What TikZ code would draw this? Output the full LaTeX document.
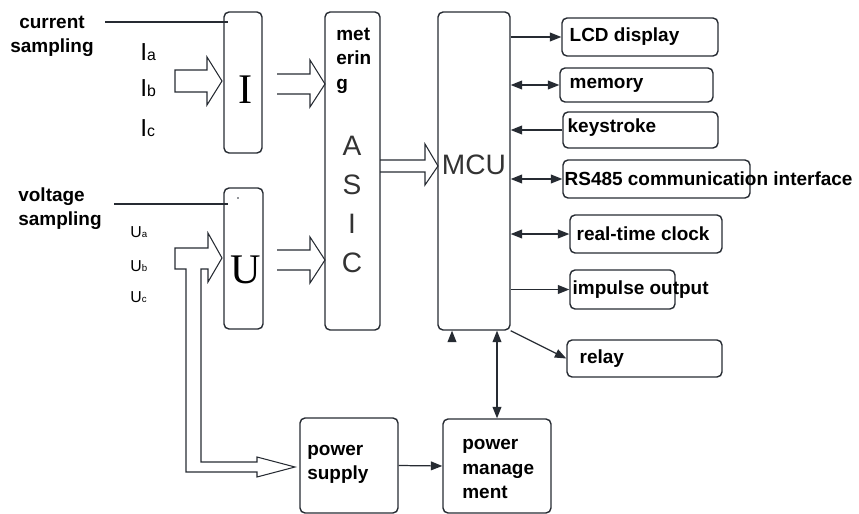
\documentclass[tikz,border=0pt]{standalone}
\usepackage{fontspec}
\setmainfont{Liberation Sans}
\newfontfamily\serfont{Liberation Serif}
\usetikzlibrary{arrows.meta,calc}
\definecolor{darkline}{RGB}{38,43,50}

\begin{document}
\begin{tikzpicture}[x=0.02cm,y=-0.02cm]

\tikzset{mybox/.style={draw=darkline, line width=0.8pt, rounded corners=0.1cm, inner sep=0pt}}
\tikzset{mytext/.style={font=\fontsize{10.8}{13.8}\selectfont\bfseries, inner sep=0pt, align=left, text=black}}
\tikzset{myarrow/.style={draw=darkline, line width=0.7pt, -{Triangle[length=6.5pt,width=5pt]}}}
\tikzset{mydouble/.style={draw=darkline, line width=0.7pt, {Triangle[length=6.5pt,width=5pt]}-{Triangle[length=6.5pt,width=5pt]}}}
\tikzset{hollow/.style={draw=darkline, line width=0.6pt}}

\useasboundingbox (0,0) rectangle (859,514);

% blocks
\node[mybox, minimum width=0.76cm, minimum height=2.82cm] (I) at (243,82.5) {};
\node[mybox, minimum width=0.78cm, minimum height=2.82cm] (U) at (243.5,258.5) {};
\node[mybox, minimum width=1.10cm, minimum height=6.36cm] (ASIC) at (352.5,171) {};
\node[mybox, minimum width=1.44cm, minimum height=6.36cm] (MCU) at (474,171) {};
\node[mybox, minimum width=3.12cm, minimum height=0.76cm] (LCD) at (640,37) {};
\node[mybox, minimum width=3.06cm, minimum height=0.68cm] (mem) at (636.5,85) {};
\node[mybox, minimum width=3.10cm, minimum height=0.72cm] (key) at (640.5,130) {};
\node[mybox, minimum width=3.74cm, minimum height=0.76cm] (rs) at (656.5,179) {};
\node[mybox, minimum width=3.04cm, minimum height=0.76cm] (rtc) at (646,234) {};
\node[mybox, minimum width=2.10cm, minimum height=0.78cm] (imp) at (622.5,289.5) {};
\node[mybox, minimum width=3.10cm, minimum height=0.74cm] (relay) at (644.5,358.5) {};
\node[mybox, minimum width=1.96cm, minimum height=1.90cm] (PS) at (349,465.5) {};
\node[mybox, minimum width=2.16cm, minimum height=1.88cm] (PM) at (497,466) {};

% texts
\node[mytext, align=center] (cur) at (52,36) {current\\sampling};
\node[mytext, anchor=west] (volt) at (18,208.5) {voltage\\sampling};
\node[mytext, anchor=north west] (met) at (336,28) {met\\erin\\g};
\node[mytext, anchor=west] (lcdtext) at ([xshift=0.16cm]LCD.west) {LCD display};
\node[mytext, anchor=west] (memtext) at ([xshift=0.2cm]mem.west) {memory};
\node[mytext, anchor=west] (keytext) at ([xshift=0.1cm,yshift=0.04cm]key.west) {keystroke};
\node[mytext, anchor=west] (rstext) at ([xshift=0.04cm]rs.west) {RS485 communication interface};
\node[mytext, anchor=west] (rtctext) at ([xshift=0.14cm]rtc.west) {real-time clock};
\node[mytext, anchor=west] (imptext) at ([xshift=0.06cm]imp.west) {impulse output};
\node[mytext, anchor=west] (relaytext) at ([xshift=0.26cm]relay.west) {relay};
\node[mytext, anchor=west] (pstext) at (307,464) {power\\supply};
\node[mytext, anchor=west] (pmtext) at (462,469) {power\\manage\\ment};

\node[font=\serfont\fontsize{24}{24}\selectfont, inner sep=0pt] (Iletter) at (246,90) {I};
\node[font=\serfont\fontsize{24}{24}\selectfont, inner sep=0pt] (Uletter) at (246,269.5) {U};
\node[font=\fontsize{16}{22.2}\selectfont, align=center, text=black!80, inner sep=0pt] (asictext) at (352,204) {A\\S\\I\\C};
\node[font=\fontsize{16}{16}\selectfont, text=black!80, inner sep=0pt] (mcutext) at (474,165) {MCU};

\node[anchor=west, inner sep=0pt] (Ia) at (140,52) {\fontsize{14}{14}\selectfont I\fontsize{9}{9}\selectfont a};
\node[anchor=west, inner sep=0pt] (Ib) at (140,88) {\fontsize{14}{14}\selectfont I\fontsize{9}{9}\selectfont b};
\node[anchor=west, inner sep=0pt] (Ic) at (140,128) {\fontsize{14}{14}\selectfont I\fontsize{9}{9}\selectfont c};
\node[anchor=west, inner sep=0pt] (Ua) at (130,232) {\fontsize{9}{9}\selectfont U\fontsize{5.5}{6}\selectfont a};
\node[anchor=west, inner sep=0pt] (Ub) at (130,266) {\fontsize{9}{9}\selectfont U\fontsize{5.5}{6}\selectfont b};
\node[anchor=west, inner sep=0pt] (Uc) at (130,297) {\fontsize{9}{9}\selectfont U\fontsize{5.5}{6}\selectfont c};

% sampling lines
\coordinate (cs) at (105,22);
\coordinate (vs) at (114,204);
\draw[darkline, line width=0.7pt] (cs) -- ([xshift=0.1cm]cs -| I.west);
\draw[darkline, line width=0.7pt] (vs) -- ([xshift=0.1cm]vs -| U.west);
\fill[darkline] (238,198) circle (0.5pt);

% hollow arrows
\draw[hollow] (175,70) -- (207,70) -- (207,57) -- (222,81) -- (207,105) -- (207,92) -- (175,92) -- cycle;
\draw[hollow] (277,74) -- (310,74) -- (310,60) -- (325,84) -- (310,107) -- (310,94) -- (277,94);
\draw[hollow] (277,250) -- (310,250) -- (310,237) -- (325,260) -- (310,283) -- (310,270) -- (277,270);
\draw[hollow] (380,160) -- (425,160) -- (425,144) -- (438,166) -- (425,185) -- (425,172) -- (380,172);
\draw[hollow] (208,248) -- (175,248) -- (175,269) -- (186,269) -- (186,472) -- (257,472) -- (257,477)
  -- (295,467) -- (257,457) -- (257,462) -- (201,462) -- (201,269) -- (208,269) -- (208,282)
  -- (222,258) -- (208,233) -- cycle;

% MCU connections
\draw[myarrow] (MCU.east |- LCD.west) -- (LCD.west);
\draw[mydouble] (MCU.east |- mem.west) -- (mem.west);
\draw[myarrow] (key.west) -- (MCU.east |- key.west);
\draw[mydouble] (MCU.east |- rs.west) -- (rs.west);
\draw[mydouble] (MCU.east |- rtc.west) -- (rtc.west);
\draw[myarrow] (MCU.east |- imp.west) -- (imp.west);
\draw[myarrow] (MCU.south east) -- (relay.west);
\draw[mydouble] (PM.north) -- (PM.north |- MCU.south);
\coordinate (tip) at ([xshift=-0.44cm,yshift=-0.2cm]MCU.south);
\draw[myarrow] (tip) -- (tip |- MCU.south);
\draw[myarrow] (PS.east) -- (PM.west);

\end{tikzpicture}
\end{document}
